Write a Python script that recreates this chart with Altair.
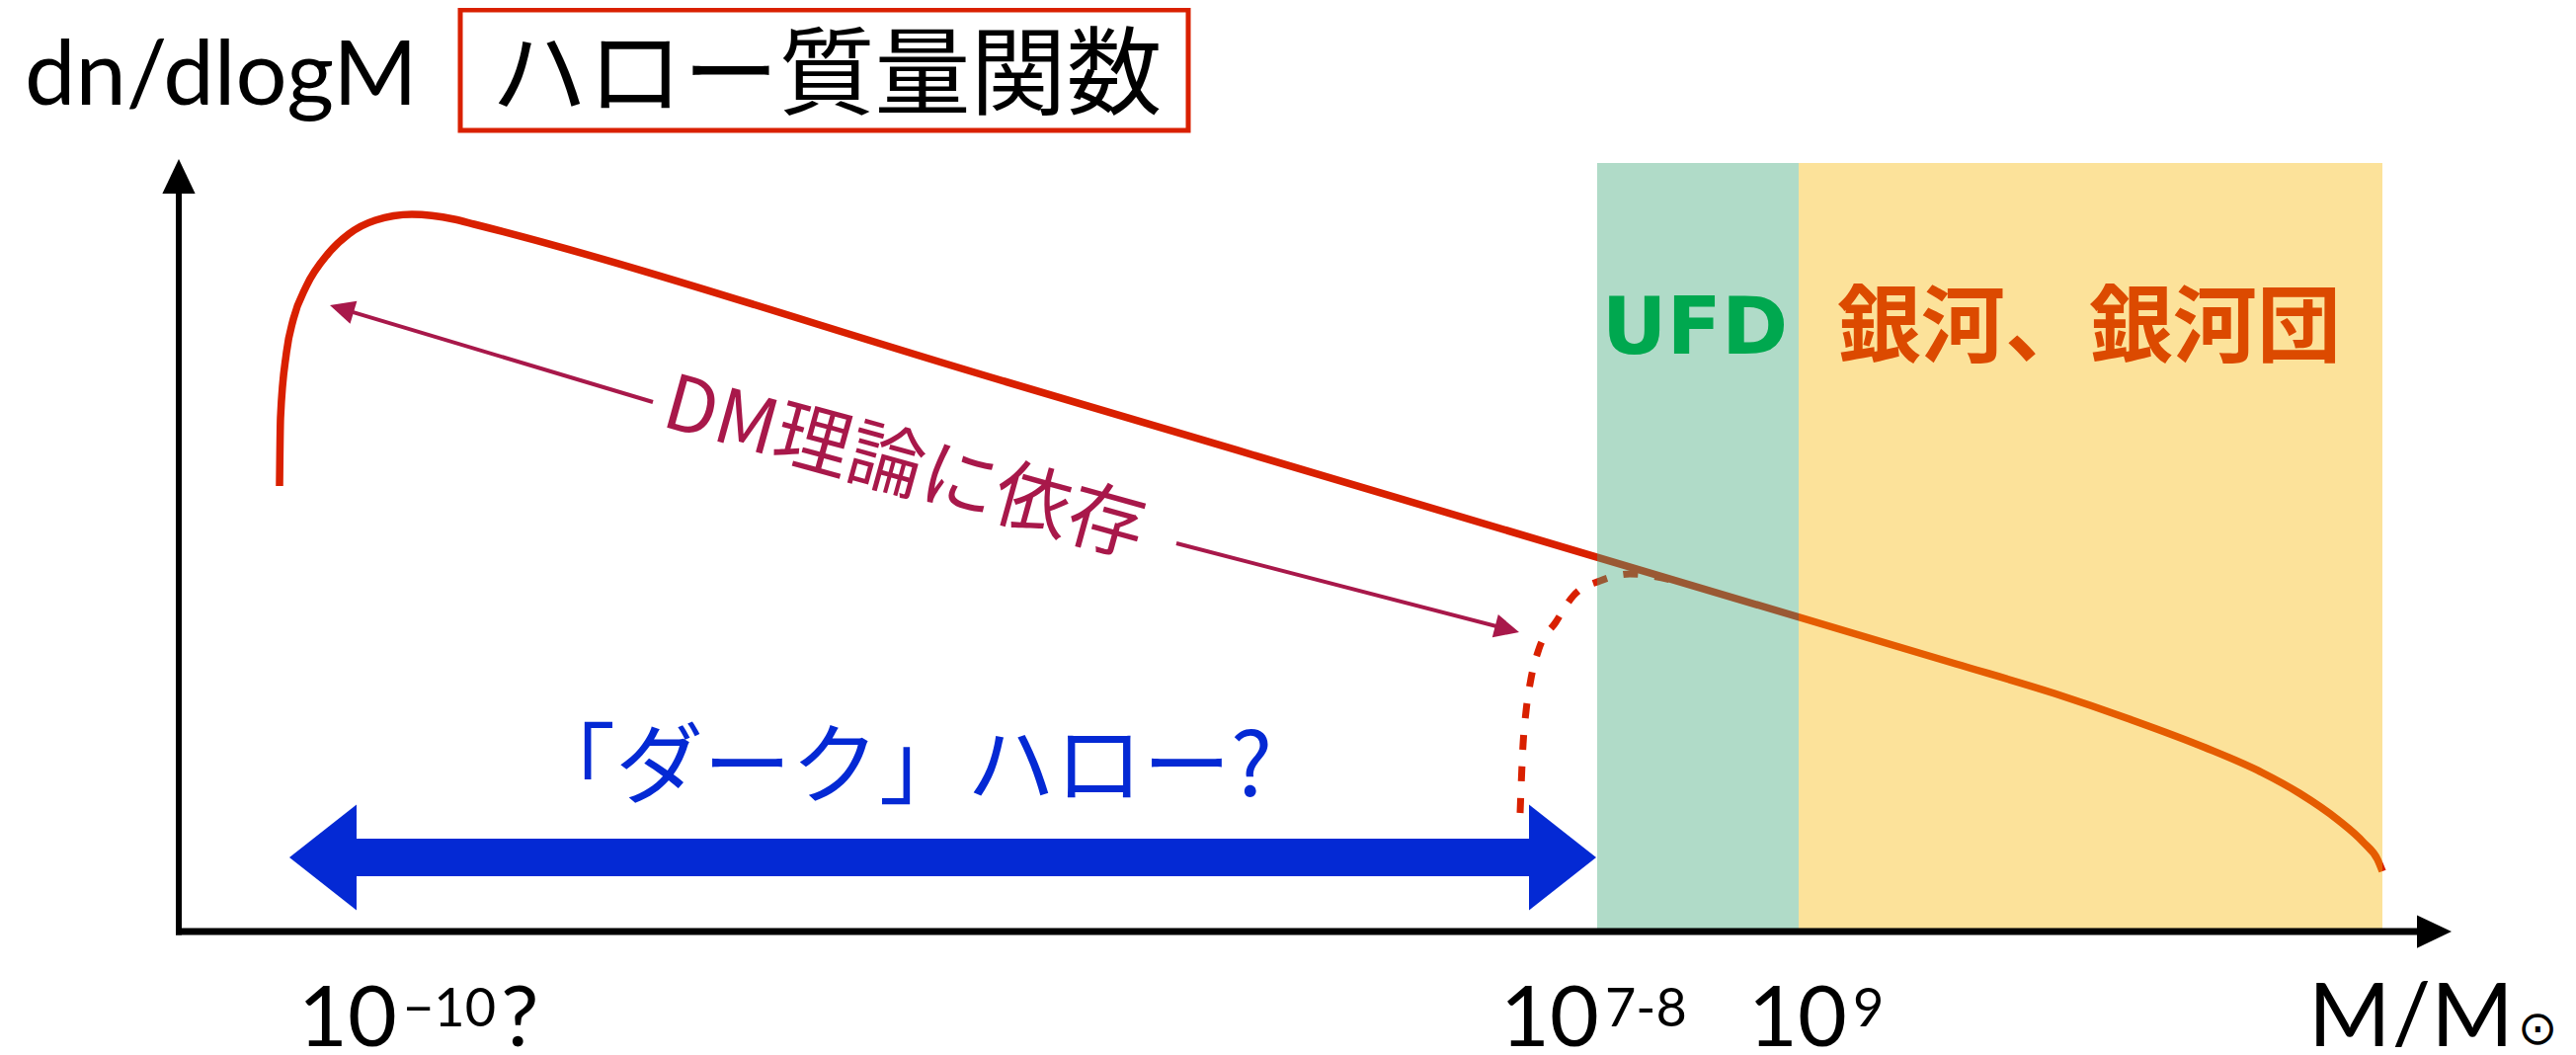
import math
import altair as alt
import pandas as pd

# ---------------- schematic coordinate system (arbitrary units) ----------------
W, H = 2592, 1052
XDOM = [-17.3, 241.9]
YDOM = [-11.7, 93.5]
PXU = W / (XDOM[1] - XDOM[0])  # pixels per unit (same on both axes)

RED = "#d92000"
MAG = "#a8184a"
BLUE = "#0429d4"
GREEN_TXT = "#00a84f"
ORANGE_TXT = "#dc4a00"

# halo mass function (solid red curve)
curve_x = [10.2, 10.3, 10.9, 11.6, 12.9, 15.1, 17.2, 19.9, 23.6, 27.9, 29.9,
           81.9, 179.9, 189.9, 197.5, 205.2, 210.9, 214.7, 218.6, 221.2, 222.6, 223.1]
curve_y = [45.1, 52.0, 58.6, 62.0, 65.3, 68.6, 70.6, 72.0, 72.6, 72.1, 71.6,
           56.2, 27.1, 24.1, 21.5, 18.6, 16.1, 14.0, 11.3, 9.0, 7.3, 6.1]

# possible cut-off (dashed red curve)
cut_x = [135.8, 136.1, 136.4, 136.9, 137.7, 139.4, 141.2, 143.9, 146.9, 151.9]
cut_y = [12.0, 19.0, 22.3, 25.6, 28.6, 31.3, 34.0, 35.5, 36.2, 35.4]

# shaded mass ranges
band_x0 = [143.6, 164.0]
band_x1 = [164.0, 223.1]
band_y0 = [0.0, 0.0]
band_y1 = [77.8, 77.8]
band_fill = ["#43a97c", "#f7b603"]
band_alpha = [0.42, 0.40]

# "DM theory dependent" arrow: two segments (tip -> gap, gap -> tip)
dm_seg_x = [15.3, 101.0]
dm_seg_y = [63.4, 39.3]
dm_seg_x2 = [48.0, 135.7]
dm_seg_y2 = [53.6, 30.3]

# dark halo range arrow
dark_tip_x = [11.2, 143.5]
dark_back_x = [18.0, 136.7]
dark_y = 7.5

# axes
yaxis_tip = (0.0, 78.2)
xaxis_tip = (230.1, 0.0)

# tick labels
tick_main = ["10", "?", "10", "10", "M/M"]
tick_main_x = [12.1, 32.6, 133.8, 158.9, 215.6]
tick_main_y = [-11.6, -11.6, -11.6, -11.6, -11.6]
tick_main_s = [86, 86, 86, 86, 90]
tick_sup = ["\u221210", "7-8", "9"]
tick_sup_x = [22.7, 144.4, 169.5]
tick_sup_y = [-9.6, -9.6, -9.6]
tick_sup_s = [54, 54, 54]

xs = alt.Scale(domain=XDOM, nice=False, zero=False)
ys = alt.Scale(domain=YDOM, nice=False, zero=False)


def xe(f="x"):
    return alt.X(f"{f}:Q", scale=xs, axis=None)


def ye(f="y"):
    return alt.Y(f"{f}:Q", scale=ys, axis=None)


def heads(tips, backs, length):
    rows = []
    for (tx, ty), (bx, by) in zip(tips, backs):
        dx = (tx - bx) * PXU
        dy = -(ty - by) * PXU
        d = math.hypot(dx, dy)
        ux, uy = dx / d, dy / d
        cx = tx - ux * length / 2 / PXU
        cy = ty + uy * length / 2 / PXU
        ang = math.degrees(math.atan2(dy, dx)) % 360
        rows.append({"x": cx, "y": cy, "a": ang, "s": length ** 2})
    return pd.DataFrame(rows)


def head_layer(df, shape, color):
    return alt.Chart(df).mark_point(shape=shape, filled=True, opacity=1,
                                    color=color, strokeWidth=0).encode(
        x=xe(), y=ye(),
        angle=alt.Angle("a:Q", scale=None),
        size=alt.Size("s:Q", scale=None))


# ---------------- layers ----------------
curve = alt.Chart(pd.DataFrame({"x": curve_x, "y": curve_y,
                                "i": list(range(len(curve_x)))})).mark_line(
    color=RED, strokeWidth=7.5, interpolate="monotone").encode(
    x=xe(), y=ye(), order="i:Q")

cut = alt.Chart(pd.DataFrame({"x": cut_x, "y": cut_y,
                              "i": list(range(len(cut_x)))})).mark_line(
    color=RED, strokeWidth=7, strokeDash=[15, 17], interpolate="monotone").encode(
    x=xe(), y=ye(), order="i:Q")

bands = alt.Chart(pd.DataFrame({"x0": band_x0, "x1": band_x1, "y0": band_y0,
                                "y1": band_y1, "c": band_fill, "op": band_alpha})).mark_rect().encode(
    x=xe("x0"), x2=alt.X2("x1"), y=ye("y0"), y2=alt.Y2("y1"),
    color=alt.Color("c:N", scale=None), opacity=alt.Opacity("op:Q", scale=None))

# magenta arrow
dm_tips = [(dm_seg_x[0], dm_seg_y[0]), (dm_seg_x2[1], dm_seg_y2[1])]
dm_backs = [(dm_seg_x2[0], dm_seg_y2[0]), (dm_seg_x[1], dm_seg_y[1])]
dm_heads = heads(dm_tips, dm_backs, 25)
dm_lines = alt.Chart(pd.DataFrame({
    "x": [dm_heads.x[0], dm_seg_x[1]], "y": [dm_heads.y[0], dm_seg_y[1]],
    "x2": [dm_seg_x2[0], dm_heads.x[1]], "y2": [dm_seg_y2[0], dm_heads.y[1]]})).mark_rule(
    color=MAG, strokeWidth=4).encode(x=xe(), y=ye(), x2=alt.X2("x2"), y2=alt.Y2("y2"))
dm_head_layer = head_layer(dm_heads, "M1,0L-1,-0.96L-1,0.96Z", MAG)

# blue double arrow
dark_heads = heads([(dark_tip_x[0], dark_y), (dark_tip_x[1], dark_y)],
                   [(dark_back_x[0], dark_y), (dark_back_x[1], dark_y)], 68)
dark_shaft = alt.Chart(pd.DataFrame({"x": [dark_back_x[0] - 1], "x2": [dark_back_x[1] + 1],
                                     "y": [dark_y]})).mark_rule(
    color=BLUE, strokeWidth=38, strokeCap="butt").encode(x=xe(), x2=alt.X2("x2"), y=ye())
dark_head_layer = head_layer(dark_heads, "M1,0L-1,-1.574L-1,1.574Z", BLUE)

# axes
axes_lines = alt.Chart(pd.DataFrame({"x": [0.0, -0.3], "y": [-0.35, 0.0],
                                     "x2": [0.0, 229.0], "y2": [77.0, 0.0],
                                     "w": [6, 7]})).mark_rule(color="black", strokeCap="butt").encode(
    x=xe(), y=ye(), x2=alt.X2("x2"), y2=alt.Y2("y2"),
    strokeWidth=alt.StrokeWidth("w:Q", scale=None))
axis_heads = heads([yaxis_tip, xaxis_tip], [(0.0, 0.0), (0.0, 0.0)], 35)
axis_head_layer = head_layer(axis_heads, "M1,0L-1,-0.95L-1,0.95Z", "black")

# title box
title_box = alt.Chart(pd.DataFrame({"x": [28.5], "x2": [102.2], "y": [81.1], "y2": [93.3]})).mark_rect(
    filled=False, color=RED, strokeWidth=5).encode(x=xe(), x2=alt.X2("x2"), y=ye(), y2=alt.Y2("y2"))


def text_layer(texts, x, y, font, size, color, align="center", baseline="alphabetic",
               weight="normal", angle=0):
    df = pd.DataFrame({"t": texts, "x": x, "y": y})
    kw = dict(font=font, fontSize=size, color=color, align=align, baseline=baseline,
              fontWeight=weight)
    if angle:
        kw["angle"] = angle
    return alt.Chart(df).mark_text(**kw).encode(x=xe(), y=ye(), text="t:N")


ylab = text_layer(["dn/dlogM"], [-15.6], [83.7], "Lato", 92, "black", align="left")
title_jp = text_layer(["ハロー質量関数"], [65.6], [83.5], "Noto Sans CJK JP", 97, "black")
ufd = text_layer(["UFD"], [153.5], [58.5], "DejaVu Sans", 81, GREEN_TXT, weight="bold")
gal = text_layer(["銀河、銀河団"], [193.4], [58.3], "Noto Sans CJK JP", 85, ORANGE_TXT,
                 weight="bold")
dm_txt = text_layer(["DM理論に依存"], [73.4], [46.8], "Noto Sans CJK JP", 77, MAG,
                    baseline="middle", angle=15.4)
dark_txt = text_layer(["「ダーク」ハロー?"], [73.0], [13.7], "Noto Sans CJK JP", 89, BLUE)

ticks_main = alt.Chart(pd.DataFrame({"t": tick_main, "x": tick_main_x, "y": tick_main_y,
                                     "s": tick_main_s})).mark_text(
    font="Lato", align="left", baseline="alphabetic", color="black").encode(
    x=xe(), y=ye(), text="t:N", size=alt.Size("s:Q", scale=None))
ticks_sup = alt.Chart(pd.DataFrame({"t": tick_sup, "x": tick_sup_x, "y": tick_sup_y,
                                    "s": tick_sup_s})).mark_text(
    font="Lato", align="left", baseline="alphabetic", color="black").encode(
    x=xe(), y=ye(), text="t:N", size=alt.Size("s:Q", scale=None))
sun = text_layer(["\u2299"], [236.8], [-11.4], "DejaVu Sans", 48, "black", align="left")

chart = alt.layer(
    curve, cut, bands, ufd, gal,
    dm_lines, dm_head_layer, dm_txt,
    dark_shaft, dark_head_layer, dark_txt,
    axes_lines, axis_head_layer,
    title_box, ylab, title_jp,
    ticks_main, ticks_sup, sun,
).properties(
    width=W, height=H, padding=0,
    autosize=alt.AutoSizeParams(type="none"),
    background="white",
).configure_view(strokeWidth=0)

chart.save("out.html", embed_options={"renderer": "svg", "actions": False})
